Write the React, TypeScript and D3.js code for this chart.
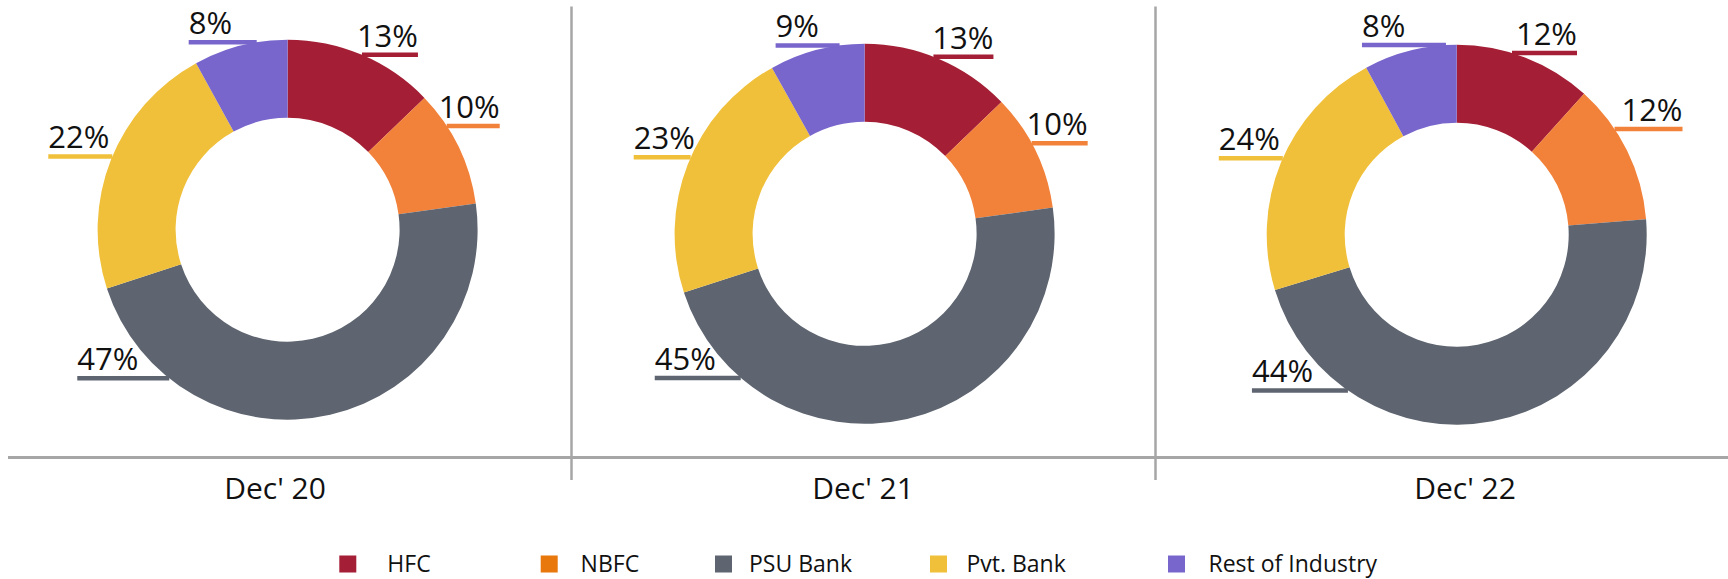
import React from 'react';
import * as d3 from 'd3';

const categories = ["Dec' 20", "Dec' 21", "Dec' 22"];
const segments = ['HFC', 'NBFC', 'PSU Bank', 'Pvt. Bank', 'Rest of Industry'];

// printed percentages
const dec20 = [13, 10, 47, 22, 8];
const dec21 = [13, 10, 45, 23, 9];
const dec22 = [12, 12, 44, 24, 8];
const labelsByYear = [dec20, dec21, dec22];

// ring shares as drawn in the picture (the rings don't follow the printed numbers exactly)
const ringDec20 = [12.8, 10, 47.2, 22, 8];
const ringDec21 = [12.8, 10, 47.2, 21.9, 8.1];
const ringDec22 = [11.7, 12, 46.6, 21.8, 7.9];
const ringsByYear = [ringDec20, ringDec21, ringDec22];

const sliceColors = ['#a41f35', '#f2813a', '#5e6570', '#f0c03a', '#7866cc'];
const legendColors = ['#a41f35', '#e8770c', '#5e6570', '#f0c03a', '#7866cc'];

// where each leader leaves the ring (fraction of a turn) and how far it runs sideways
const labelTurn = [
  [0.064, 0.158, 0.607, 0.813, 0.974],
  [0.059, 0.171, 0.613, 0.816, 0.979],
  [0.047, 0.156, 0.597, 0.816, 0.991]
];
const labelReach = [
  [56, 53, 92, 64, 68],
  [60, 56, 86, 57, 64],
  [65, 68, 96, 64, 84]
];

const W = 1728, H = 579;
const outerR = 190, innerR = 112;
const font = '"Open Sans", "Noto Sans", sans-serif';

export default function App() {
  const cx = d3.scaleOrdinal<string, number>().domain(categories).range([287.6, 864.6, 1456.7]);
  const cy = d3.scaleOrdinal<string, number>().domain(categories).range([229.7, 233.8, 234.7]);
  const captionX = d3.scaleOrdinal<string, number>().domain(categories).range([275, 863, 1465]);
  const swatchX = d3.scaleOrdinal<string, number>().domain(segments).range([339.3, 540.7, 715, 930, 1168]);
  const legendTextX = d3.scaleOrdinal<string, number>().domain(segments).range([387.3, 580.6, 749, 966.4, 1208.5]);
  const dividerX = [571.5, 1155.5];
  const axisY = 457.5;

  const pie = d3.pie<number>().sort(null).value(d => d);
  const arc = d3.arc<d3.PieArcDatum<number>>().innerRadius(innerR).outerRadius(outerR);

  return (
    <div style={{ position: 'absolute', left: 0, top: 0 }}>
      <svg width={W} height={H} style={{ display: 'block', background: '#fff' }}>
        {dividerX.map((x, i) => (
          <line key={'d' + i} x1={x} x2={x} y1={6.5} y2={480} stroke="#a6a6a6" strokeWidth={2.5} />
        ))}
        <line x1={8} x2={W} y1={axisY} y2={axisY} stroke="#a6a6a6" strokeWidth={3} />

        {categories.map((cat, ci) => {
          const arcs = pie(ringsByYear[ci]);
          const x0 = cx(cat), y0 = cy(cat);
          return (
            <g key={cat}>
              <g transform={`translate(${x0},${y0})`}>
                {arcs.map((a, i) => (
                  <path key={i} d={arc(a) || ''} fill={sliceColors[i]} />
                ))}
              </g>
              {labelsByYear[ci].map((v, i) => {
                const ang = labelTurn[ci][i] * 2 * Math.PI;
                const ax = x0 + outerR * Math.sin(ang);
                const ay = y0 - outerR * Math.cos(ang);
                const side = Math.sin(ang) >= 0 ? 1 : -1;
                const ex = ax + side * labelReach[ci][i];
                return (
                  <g key={'l' + i}>
                    <line x1={ax} x2={ex} y1={ay} y2={ay} stroke={sliceColors[i]} strokeWidth={4.5} />
                    <text
                      x={ex}
                      y={ay - 8}
                      textAnchor={side > 0 ? 'end' : 'start'}
                      fontFamily={font}
                      fontSize={31}
                      fill="#111"
                    >
                      {v + '%'}
                    </text>
                  </g>
                );
              })}
              <text x={captionX(cat)} y={499} textAnchor="middle" fontFamily={font} fontSize={30} fill="#111">
                {cat}
              </text>
            </g>
          );
        })}

        {segments.map((s, i) => (
          <g key={s}>
            <rect x={swatchX(s)} y={555.5} width={17} height={17} fill={legendColors[i]} />
            <text x={legendTextX(s)} y={572} fontFamily={font} fontSize={23} fill="#111">
              {s}
            </text>
          </g>
        ))}
      </svg>
    </div>
  );
}
